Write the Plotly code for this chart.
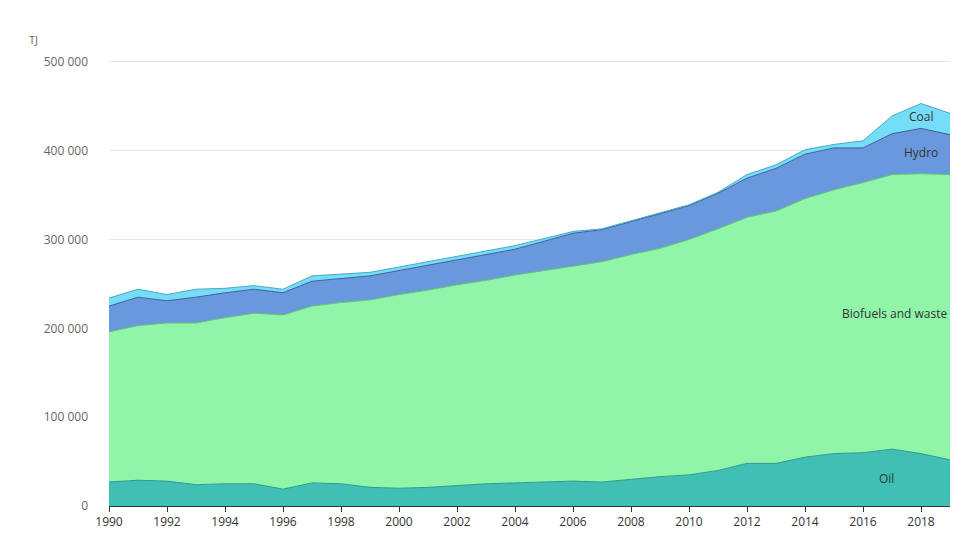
import plotly.graph_objects as go

years = list(range(1990, 2020))
oil = [27000, 29000, 28000, 24000, 25000, 25000, 19000, 26000, 25000, 21000,
       20000, 21000, 23000, 25000, 26000, 27000, 28000, 27000, 30000, 33000,
       35000, 40000, 48000, 48000, 55000, 59000, 60000, 64000, 59000, 52000]
biofuels = [169000, 174000, 178000, 182000, 187000, 192000, 196000, 199000, 204000, 211000,
            218000, 222000, 226000, 229000, 234000, 238000, 242000, 248000, 253000, 257000,
            265000, 272000, 277000, 284000, 291000, 297000, 304000, 309000, 315000, 321000]
hydro = [29000, 32000, 25000, 29000, 28000, 27000, 25000, 28000, 27000, 27000,
         27000, 28000, 28000, 29000, 29000, 33000, 37000, 36000, 37000, 39000,
         38000, 40000, 44000, 48000, 50000, 47000, 39000, 46000, 51000, 45000]
coal = [9000, 9000, 7000, 9000, 5000, 4000, 4000, 6000, 5000, 4000,
        4000, 4000, 4000, 4000, 4000, 3000, 2000, 1000, 1000, 1000,
        1000, 1000, 4000, 4000, 5000, 4000, 8000, 20000, 28000, 24000]

series = [
    ("Oil", oil, "#40C0B4", "#2E9A90"),
    ("Biofuels and waste", biofuels, "#90F5A8", "#5FC27A"),
    ("Hydro", hydro, "#6A98DC", "#3E5E9C"),
    ("Coal", coal, "#76DDF8", "#4AA9C4"),
]

fig = go.Figure()
for name, vals, fill, line in series:
    fig.add_trace(go.Scatter(x=years, y=vals, name=name, stackgroup="one",
                             mode="lines", fillcolor=fill,
                             line=dict(color=line, width=1)))

labels = [("Coal", 2018.0, 438000), ("Hydro", 2018.0, 398000),
          ("Biofuels and waste", 2017.1, 217000), ("Oil", 2016.8, 31000)]
for text, x, y in labels:
    fig.add_annotation(x=x, y=y, text=text, showarrow=False,
                       font=dict(size=12, color="#333"))

fig.add_annotation(x=0, xref="paper", xshift=-82, y=1, yref="paper", yshift=14,
                   text="TJ", showarrow=False, font=dict(size=11, color="#666"),
                   xanchor="left")

fig.update_layout(
    width=975, height=544,
    margin=dict(l=101, r=33, t=36, b=46),
    plot_bgcolor="white", paper_bgcolor="white",
    showlegend=False, separators=". ",
    font=dict(family="Open Sans", size=12, color="#555"),
    xaxis=dict(range=[1990, 2019], dtick=2, tick0=1990, ticks="outside",
               ticklen=5, tickcolor="#333", showgrid=False, automargin=False,
               showline=True, linecolor="#333", tickfont=dict(color="#333")),
    yaxis=dict(range=[0, 520000], tickvals=[0, 100000, 200000, 300000, 400000, 500000],
               tickformat=",", gridcolor="#e6e6e6", zeroline=False, automargin=False,
               ticklabelstandoff=20, tickfont=dict(color="#666")),
)
fig.write_html("out.html")
